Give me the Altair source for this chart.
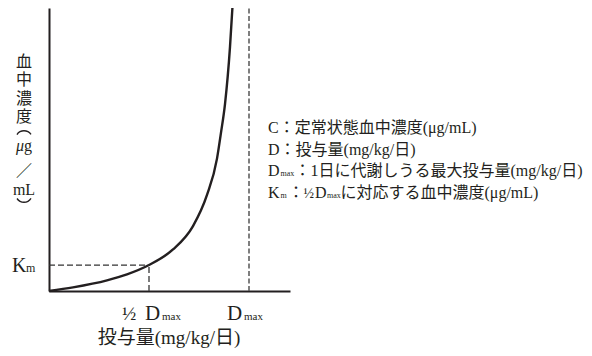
import altair as alt
import pandas as pd

# ---- data ----
dose = [0, 1.2, 2.9, 3.9, 5.0, 6.2, 7.2, 7.9, 8.4, 8.6, 8.8, 9.05, 9.17]
conc = [0, 0.14, 0.41, 0.64, 1.0, 1.6, 2.5, 3.7, 5.1, 6.1, 7.2, 9.4, 10.9]
km_value = [1.0]
half_dmax = [5.0]
dmax_value = [10.0]
x_domain = [0, 12.05]
y_domain = [0, 10.9]

y_title_chars = ["血", "中", "濃", "度"]
x_title = ["投与量(mg/kg/日)"]
legend_lines = ["C：定常状態血中濃度(μg/mL)", "D：投与量(mg/kg/日)"]

FONT = "Liberation Serif, Noto Sans CJK JP"
INK = "#231f20"

xs = alt.Scale(domain=x_domain, nice=False, zero=False)
ys = alt.Scale(domain=y_domain, nice=False, zero=False)

curve_df = pd.DataFrame({"D": dose, "C": conc})

curve = alt.Chart(curve_df).mark_line(
    color=INK, strokeWidth=2.4, interpolate="monotone"
).encode(
    x=alt.X("D:Q", scale=xs, title=None),
    y=alt.Y("C:Q", scale=ys, title=None),
)

km_h = alt.Chart(pd.DataFrame({"x": [0.0], "x2": half_dmax, "y": km_value})).mark_rule(
    color="#333333", strokeWidth=1.3, strokeDash=[6, 3]
).encode(x=alt.X("x:Q", scale=xs, title=None), x2="x2:Q", y=alt.Y("y:Q", scale=ys, title=None))

half_v = alt.Chart(pd.DataFrame({"x": half_dmax, "y": [0.0], "y2": km_value})).mark_rule(
    color="#444444", strokeWidth=1.4, strokeDash=[6, 3]
).encode(x=alt.X("x:Q", scale=xs, title=None), y=alt.Y("y:Q", scale=ys, title=None), y2="y2:Q")

dmax_v = alt.Chart(pd.DataFrame({"x": dmax_value, "y": [0.0], "y2": [y_domain[1]]})).mark_rule(
    color="#555555", strokeWidth=1.5, strokeDash=[5, 2.5]
).encode(x=alt.X("x:Q", scale=xs, title=None), y=alt.Y("y:Q", scale=ys, title=None), y2="y2:Q")


def txt(text, x, y, size, align="left", baseline="alphabetic", style="normal", font=FONT):
    return alt.Chart(pd.DataFrame({"t": [text]})).mark_text(
        align=align, baseline=baseline, fontSize=size, font=font, color=INK, fontStyle=style
    ).encode(x=alt.value(x), y=alt.value(y), text="t:N")


def xtxt(text, xval, y, size, dx):
    return alt.Chart(pd.DataFrame({"t": [text], "v": [xval]})).mark_text(
        align="left", baseline="alphabetic", fontSize=size, font=FONT, color=INK, dx=dx
    ).encode(x=alt.X("v:Q", scale=xs, title=None), y=alt.value(y), text="t:N")


def ytxt(text, yval, x, size, dy):
    return alt.Chart(pd.DataFrame({"t": [text], "v": [yval]})).mark_text(
        align="left", baseline="alphabetic", fontSize=size, font=FONT, color=INK, dy=dy
    ).encode(y=alt.Y("v:Q", scale=ys, title=None), x=alt.value(x), text="t:N")


def bracket(cx, cy, t0, t1):
    # vertical-writing parenthesis drawn as a thin arc
    return alt.Chart(pd.DataFrame({"a": [0]})).mark_arc(
        radius=9, radius2=7.6, theta=t0, theta2=t1, color=INK
    ).encode(x=alt.value(cx), y=alt.value(cy))


layers = [curve, km_h, half_v, dmax_v]

# tick-like labels
layers += [
    xtxt("½", half_dmax[0], 312, 19, -27),
    xtxt("D", half_dmax[0], 312, 21, -4),
    xtxt("max", half_dmax[0], 312, 11, 13),
    xtxt("D", dmax_value[0], 312, 21, -22),
    xtxt("max", dmax_value[0], 312, 11, -5),
    ytxt("K", km_value[0], -37, 20, 7),
    ytxt("m", km_value[0], -23, 12, 7),
]

# x title
layers.append(txt(x_title[0], 120, 336, 19, align="center"))

# vertical y title
ycx = -25
for ch, yb in zip(y_title_chars, [59, 77, 95.5, 113.5]):
    layers.append(txt(ch, ycx, yb, 16, align="center"))
layers += [
    bracket(ycx, 131, 5.28, 7.28),
    txt("μ", ycx - 4, 143, 16, align="center", style="italic"),
    txt("g", ycx + 4, 143, 16, align="center"),
    txt("／", ycx, 168, 16, align="center"),
    txt("mL", ycx, 187, 16, align="center"),
    bracket(ycx, 186, 2.14, 4.14),
]

# legend text
LS = 16
layers += [
    txt(legend_lines[0], 219, 125, LS),
    txt(legend_lines[1], 219, 146.5, LS),
    txt("D", 219, 168, LS),
    txt("max", 231.5, 168, 8),
    txt("：1日に代謝しうる最大投与量(mg/kg/日)", 245.5, 168, LS),
    txt("K", 219, 189.5, LS),
    txt("m", 231.5, 189.5, 8),
    txt("：", 239, 189.5, LS),
    txt("½", 254.5, 189.5, 14),
    txt("D", 266, 189.5, LS),
    txt("max", 278, 189.5, 8),
    txt("に対応する血中濃度(μg/mL)", 291.5, 189.5, LS),
]

chart = alt.layer(*layers).properties(
    width=241,
    height=283,
    autosize=alt.AutoSizeParams(type="none"),
    padding={"left": 41, "top": 0, "right": 294, "bottom": 57},
).configure_view(stroke=None).configure_axis(
    labels=False, ticks=False, grid=False, domainColor=INK, domainWidth=2
)

chart.save("out.html", embed_options={"renderer": "svg", "actions": False})
